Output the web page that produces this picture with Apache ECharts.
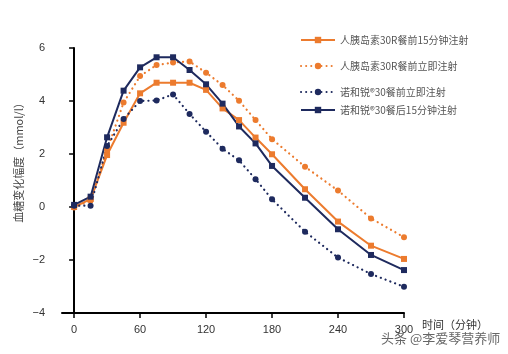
<!DOCTYPE html>
<html>
<head>
<meta charset="utf-8">
<script src="https://cdn.jsdelivr.net/npm/echarts@6/dist/echarts.min.js"></script>
<style>
html,body{margin:0;padding:0;background:#fff;}
#c{width:508px;height:354px;}
</style>
</head>
<body>
<div id="c"></div>
<script>
var times = [0, 15, 30, 45, 60, 75, 90, 105, 120, 135, 150, 165, 180, 210, 240, 270, 300];
var seriesNames = ['人胰岛素30R餐前15分钟注射', '人胰岛素30R餐前立即注射', '诺和锐®30餐前立即注射', '诺和锐®30餐后15分钟注射'];
var humanPre15 = [0.0, 0.3, 1.96, 3.18, 4.29, 4.69, 4.69, 4.69, 4.42, 3.72, 3.28, 2.62, 1.99, 0.67, -0.55, -1.46, -1.96];
var humanNow   = [-0.02, 0.25, 2.15, 3.94, 4.94, 5.36, 5.45, 5.49, 5.07, 4.60, 4.01, 3.28, 2.56, 1.52, 0.62, -0.43, -1.14];
var novoNow    = [0.05, 0.05, 2.3, 3.32, 4.0, 4.02, 4.25, 3.51, 2.84, 2.2, 1.76, 1.05, 0.29, -0.93, -1.91, -2.53, -3.01];
var novoPost15 = [0.08, 0.39, 2.63, 4.39, 5.27, 5.65, 5.65, 5.17, 4.63, 3.9, 3.04, 2.40, 1.55, 0.35, -0.84, -1.81, -2.38];
var xTicks = [0, 60, 120, 180, 240, 300];

var ORANGE = '#EC7B2E';
var NAVY = '#1E2A5E';

function pairs(vals){ return times.map(function(t,i){ return [t, vals[i]]; }); }

var chart = echarts.init(document.getElementById('c'), null, {renderer:'canvas'});
var legendCenters = [40, 66, 92, 110];
var legends = seriesNames.map(function(n, i){
  return {
    data: [n],
    left: 300,
    top: legendCenters[i] - 7,
    padding: 0,
    itemWidth: 34,
    itemHeight: 8,
    itemGap: 10,
    textStyle: {fontSize: 10, color: '#555', fontFamily: 'Noto Sans CJK SC', lineHeight: 14},
    selectedMode: false
  };
});

function mkSeries(name, vals, color, type, symbol){
  var dotted = type === 'dotted';
  return {
    name: name,
    type: 'line',
    data: pairs(vals),
    symbol: symbol,
    symbolSize: 6,
    lineStyle: {color: color, width: dotted ? 2.2 : 2, type: dotted ? [0.1, 5] : 'solid', cap: dotted ? 'round' : 'butt'},
    itemStyle: {color: color},
    animation: false
  };
}

chart.setOption({
  backgroundColor: '#fff',
  animation: false,
  legend: legends,
  grid: {left: 62, right: 104, top: 48, bottom: 41, containLabel: false},
  xAxis: {
    type: 'value',
    min: -11, max: 300,
    name: '时间（分钟）',
    nameLocation: 'end',
    nameGap: 18,
    nameTextStyle: {fontSize: 11, color: '#333', align: 'left', verticalAlign: 'top', padding: [6,0,0,0], fontFamily: 'Noto Sans CJK SC'},
    axisLine: {show: true, onZero: false, lineStyle: {color: '#000', width: 2}},
    axisTick: {show: true, length: 5, lineStyle: {color: '#000', width: 1.5}, customValues: xTicks},
    axisLabel: {fontSize: 11, color: '#333', margin: 11, customValues: xTicks, fontFamily: 'Liberation Sans'},
    splitLine: {show: false}
  },
  yAxis: {
    type: 'value',
    min: -4, max: 6, interval: 2,
    axisLine: {show: true, lineStyle: {color: '#000', width: 2}},
    axisTick: {show: true, length: 5, lineStyle: {color: '#000', width: 1.5}},
    axisLabel: {fontSize: 11, color: '#333', margin: 17, fontFamily: 'Liberation Sans',
      formatter: function(v){ return v < 0 ? '\u2212' + (-v) : String(v); }},
    splitLine: {show: false}
  },
  graphic: [
    {type: 'text', x: 19, y: 160, rotation: Math.PI/2,
     style: {text: '血糖变化幅度（mmol/l）', fontSize: 11, fill: '#444', align: 'center', verticalAlign: 'middle', fontFamily: 'Noto Sans CJK SC'}},
    {type: 'text', left: 380, top: 331,
     style: {text: '头条 @李爱琴营养师', fontSize: 13, fill: '#666', fontFamily: 'Noto Sans CJK SC', stroke: '#fff', lineWidth: 2}}
  ],
  series: [
    mkSeries(seriesNames[0], humanPre15, ORANGE, 'solid', 'rect'),
    mkSeries(seriesNames[1], humanNow, ORANGE, 'dotted', 'circle'),
    mkSeries(seriesNames[2], novoNow, NAVY, 'dotted', 'circle'),
    mkSeries(seriesNames[3], novoPost15, NAVY, 'solid', 'rect')
  ]
});
</script>
</body>
</html>
